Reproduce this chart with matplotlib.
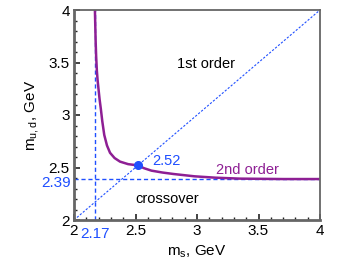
import matplotlib as mpl
mpl.use('Agg')
import matplotlib.pyplot as plt
from matplotlib.ticker import MultipleLocator

plt.rcParams['font.family'] = ['Liberation Sans', 'DejaVu Sans']

# transition line (m_s, m_ud)
ms_curve = [2.170, 2.173, 2.176, 2.180, 2.186, 2.192, 2.199, 2.208, 2.218, 2.230,
            2.246, 2.268, 2.293, 2.33, 2.374, 2.44, 2.52, 2.57, 2.63, 2.72,
            2.81, 2.98, 3.15, 3.35, 3.7, 4.0]
mud_curve = [4.0, 3.85, 3.7, 3.56, 3.42, 3.33, 3.25, 3.15, 3.06, 2.94,
             2.81, 2.71, 2.64, 2.59, 2.556, 2.532, 2.52, 2.493, 2.47, 2.452,
             2.438, 2.416, 2.403, 2.394, 2.39, 2.39]

ms_crit = 2.17
mud_crit = 2.39
sym_point = 2.52
ticks = [2, 2.5, 3, 3.5, 4]
tick_labels = ['2', '2.5', '3', '3.5', '4']

blue = '#1f4fff'
purple = '#8e1f94'

fig = plt.figure(figsize=(3.44, 2.72), dpi=100)
ax = fig.add_axes([74/344, 52/272, 246/344, 210/272])

ax.plot([2, 4], [2, 4], ls=(0, (2, 1.5)), color=blue, lw=0.8)
ax.plot([ms_crit, ms_crit], [2, 4], ls=(0, (3, 2)), color=blue, lw=1.0)
ax.plot([2, 4], [mud_crit, mud_crit], ls=(0, (3, 2)), color=blue, lw=1.0)
ax.plot(ms_curve, mud_curve, color=purple, lw=1.8, solid_joinstyle='round')
ax.plot([sym_point], [sym_point], 'o', color=blue, ms=5.5)

ax.text(3.07, 3.49, '1st order', fontsize=10.5, ha='center', va='center')
ax.text(3.41, 2.48, '2nd order', fontsize=10.5, ha='center', va='center', color=purple)
ax.text(2.76, 2.2, 'crossover', fontsize=10.5, ha='center', va='center')
ax.text(2.64, 2.565, '%.2f' % sym_point, fontsize=10.5, ha='left', va='center', color=blue)

ax.set_xlim(2, 4)
ax.set_ylim(2, 4)
ax.set_xticks(ticks)
ax.set_xticklabels(tick_labels)
ax.set_yticks(ticks)
ax.set_yticklabels(tick_labels)
ax.xaxis.set_minor_locator(MultipleLocator(0.1))
ax.yaxis.set_minor_locator(MultipleLocator(0.1))
ax.tick_params(which='both', direction='in', top=False, right=False,
               labelsize=11, color='#222222')
ax.tick_params(which='major', length=4, width=1.2, pad=3)
ax.tick_params(which='minor', length=2.5, width=1.0)

# extra blue tick labels for the critical masses
ax.text(ms_crit, -0.035, '%.2f' % ms_crit, transform=ax.get_xaxis_transform(),
        ha='center', va='top', fontsize=11, color=blue)
ax.text(-0.012, mud_crit - 0.04, '%.2f' % mud_crit, transform=ax.get_yaxis_transform(),
        ha='right', va='center', fontsize=11, color=blue)

for side in ['left', 'bottom']:
    ax.spines[side].set_linewidth(2.0)
    ax.spines[side].set_color('#666666')
for side in ['top', 'right']:
    ax.spines[side].set_linewidth(1.3)
    ax.spines[side].set_color('#666666')

ax.set_xlabel('m$_\\mathregular{s}$, GeV', fontsize=11, labelpad=4)
ax.set_ylabel('m$_\\mathregular{u,d}$, GeV', fontsize=11, labelpad=5)

fig.savefig('out.png', dpi=100)
